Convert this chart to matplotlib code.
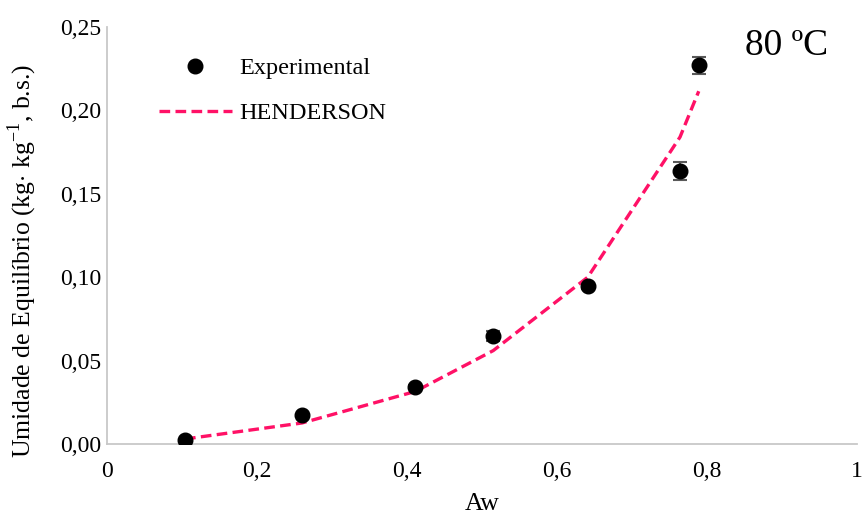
import matplotlib
matplotlib.use("Agg")
import matplotlib.pyplot as plt
from matplotlib.ticker import FuncFormatter, FixedLocator
from matplotlib.lines import Line2D

plt.rcParams['font.family'] = ['Liberation Serif', 'DejaVu Serif']
plt.rcParams['mathtext.fontset'] = 'custom'
plt.rcParams['mathtext.rm'] = 'Liberation Serif'

# Data
aw_exp = [0.104, 0.260, 0.411, 0.515, 0.641, 0.764, 0.789]
ue_exp = [0.0024, 0.0172, 0.0340, 0.0645, 0.0945, 0.1635, 0.2270]
ue_err = [0.0008, 0.0010, 0.0012, 0.0030, 0.0015, 0.0055, 0.0050]
aw_hend = [0.104, 0.260, 0.411, 0.515, 0.641, 0.764, 0.789]
ue_hend = [0.0030, 0.0126, 0.0315, 0.0560, 0.1000, 0.1840, 0.2115]
xticks = [0, 0.2, 0.4, 0.6, 0.8, 1.0]
yticks = [0, 0.05, 0.10, 0.15, 0.20, 0.25]

fig = plt.figure(figsize=(8.66, 5.16), dpi=100)
ax = fig.add_axes([107/866, 1-444/516, 750/866, 417/516])

ax.errorbar(aw_exp, ue_exp, yerr=ue_err, fmt='o', color='black', markersize=10.5,
            ecolor='#595959', elinewidth=1.5, capsize=5, capthick=1.5,
            label='Experimental', zorder=3)
ax.plot(aw_hend, ue_hend, linestyle=(0, (3.2, 1.6)), color='#FF1166', linewidth=2.4,
        label='HENDERSON', zorder=2)

ax.set_xlim(0, 1)
ax.set_ylim(0, 0.25)
ax.xaxis.set_major_locator(FixedLocator(xticks))
ax.yaxis.set_major_locator(FixedLocator(yticks))
ax.xaxis.set_major_formatter(FuncFormatter(lambda v, p: ('%g' % v).replace('.', ',')))
ax.yaxis.set_major_formatter(FuncFormatter(lambda v, p: ('%.2f' % v).replace('.', ',')))
ax.tick_params(axis='both', length=0, labelsize=17)
ax.tick_params(axis='x', pad=12)
ax.tick_params(axis='y', pad=4)

for s in ['top', 'right']:
    ax.spines[s].set_visible(False)
for s in ['left', 'bottom']:
    ax.spines[s].set_color('#C8C8C8')
    ax.spines[s].set_linewidth(1.3)

ax.set_xlabel('Aw', fontsize=18.5, labelpad=8)
ax.set_ylabel(r'Umidade de Equilíbrio (kg$\cdot$ kg$^{\mathregular{-1}}$, b.s.)', fontsize=18.5)
ax.yaxis.set_label_coords(-0.091, 0.44)

h_exp = Line2D([], [], marker='o', linestyle='none', color='black', markersize=10.5)
h_hen = Line2D([], [], linestyle=(0, (3.2, 1.6)), color='#FF1166', linewidth=2.4)
leg = ax.legend([h_exp, h_hen], ['Experimental', 'HENDERSON'], loc='upper left',
                bbox_to_anchor=(0.04, 0.98), frameon=False, fontsize=17.5,
                handlelength=3.0, handletextpad=0.3, labelspacing=0.95)

ax.text(0.962, 0.955, '80 ºC', transform=ax.transAxes, fontsize=27,
        ha='right', va='center')

fig.savefig('out.png', dpi=100)
